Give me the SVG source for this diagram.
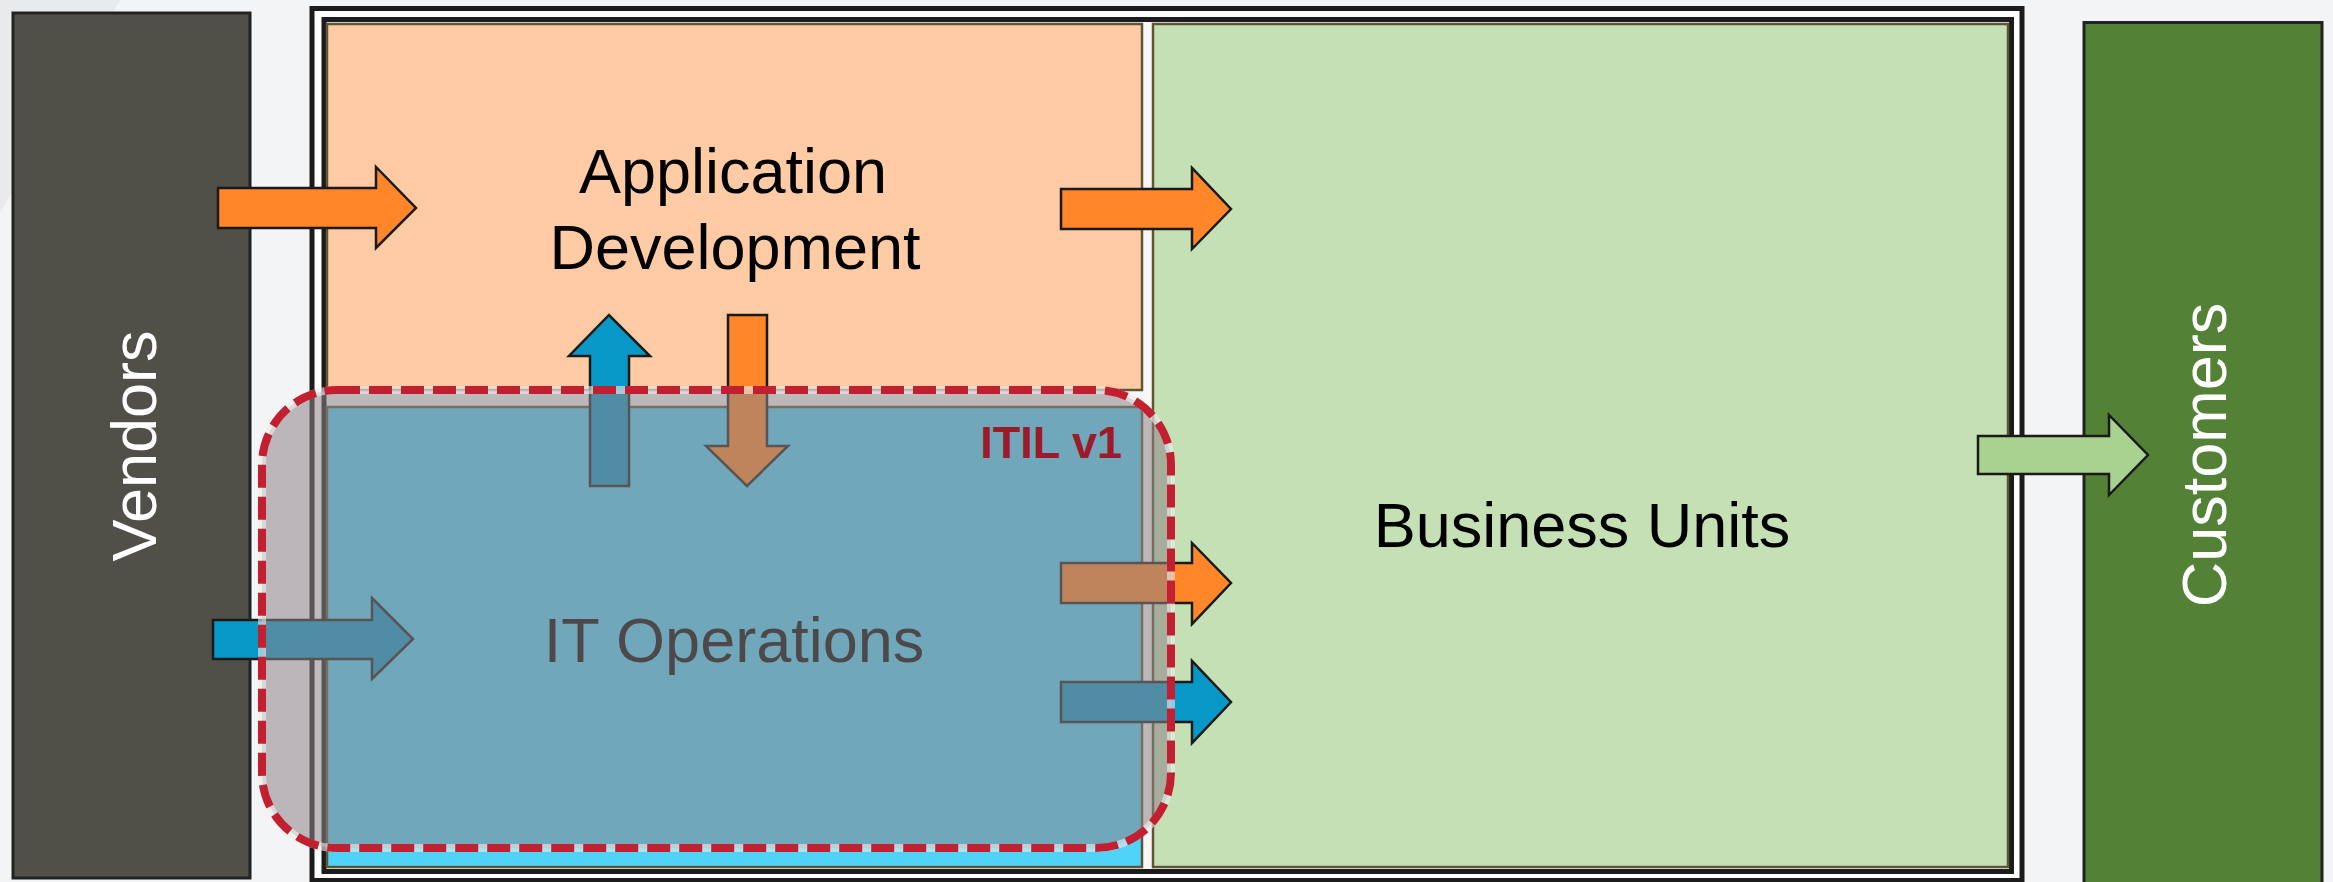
<svg xmlns="http://www.w3.org/2000/svg" width="2333" height="882" viewBox="0 0 2333 882">
<style>
.lbl{font-family:"Liberation Sans",Arial,sans-serif;font-size:63px;}
.side{fill:#ffffff;text-anchor:middle;}
.ctr{fill:#000000;text-anchor:middle;}
.box{stroke:#5e5535;stroke-width:2.5;}
.arr{stroke:#1a1a1a;stroke-width:2.5;stroke-linejoin:miter;}
.org{fill:#ff8629;}
.blu{fill:#0898c7;}
.grn{fill:#a9d18f;}
</style>
<rect x="0" y="0" width="2333" height="882" fill="#f3f4f6"/>
<polygon points="0,0 120,0 0,213" fill="#e9eaec"/>

<g id="vendors">
<rect x="13" y="13" width="237" height="865" fill="#505048" stroke="#222" stroke-width="3"/>
<text class="lbl side" transform="translate(156,446) rotate(-90)">Vendors</text>
</g>

<g id="customers">
<rect x="2084" y="22.5" width="238" height="872" fill="#538135" stroke="#222" stroke-width="3"/>
<text class="lbl side" transform="translate(2226,455) rotate(-90)">Customers</text>
</g>

<g id="frame">
<rect x="312" y="8.5" width="1710" height="872" fill="#ffffff" stroke="#1c1c1c" stroke-width="5"/>
<rect x="324" y="19.5" width="1687.5" height="852" fill="#f7f7f7" stroke="#1c1c1c" stroke-width="5"/>
</g>

<g id="app-dev">
<rect class="box" x="327" y="24" width="815" height="366" fill="#ffcba4"/>
<text class="lbl ctr" x="733" y="193">Application</text>
<text class="lbl ctr" x="735" y="269">Development</text>
</g>

<g id="business-units">
<rect class="box" x="1153" y="24" width="855" height="843" fill="#c5e0b4"/>
<text class="lbl ctr" x="1582" y="547">Business Units</text>
</g>

<g id="it-ops">
<rect class="box" x="327" y="407" width="815" height="460" fill="#4fd3f8"/>
<text class="lbl ctr" x="734" y="662">IT Operations</text>
</g>

<g id="connectors">
<path class="arr org" d="M218,188 L376,188 L376,167 L416,208 L376,248 L376,228 L218,228 Z"/>
<path class="arr org" d="M1061,189 L1192,189 L1192,168 L1231,209 L1192,249 L1192,229 L1061,229 Z"/>
<path class="arr blu" d="M213,620 L372,620 L372,598 L413,639 L372,679 L372,659 L213,659 Z"/>
<path class="arr blu" d="M590,486 L590,356 L569,356 L609,315 L650,356 L629,356 L629,486 Z"/>
<path class="arr org" d="M728,315 L767,315 L767,446 L788,446 L747,486 L706,446 L728,446 Z"/>
<path class="arr org" d="M1061,563 L1192,563 L1192,543 L1231,583 L1192,624 L1192,603 L1061,603 Z"/>
<path class="arr blu" d="M1061,682 L1192,682 L1192,661 L1231,702 L1192,743 L1192,722 L1061,722 Z"/>
<path class="arr grn" d="M1978,436 L2109,436 L2109,415 L2148,455 L2109,495 L2109,474 L1978,474 Z"/>
</g>

<g id="itil-v1">
<rect x="262" y="390" width="909" height="458" rx="75" ry="75" fill="#8c8387" fill-opacity="0.55"/>
<rect x="262" y="390" width="909" height="458" rx="75" ry="75" fill="none" stroke="#eeeded" stroke-opacity="0.6" stroke-width="8"/>
<rect x="262" y="390" width="909" height="458" rx="75" ry="75" fill="none" stroke="#c21f31" stroke-width="8" stroke-dasharray="23 9"/>
<text x="1122" y="458" text-anchor="end" font-family="'Liberation Sans',Arial,sans-serif" font-size="45" font-weight="bold" fill="#9b1b2a">ITIL v1</text>
</g>
</svg>
